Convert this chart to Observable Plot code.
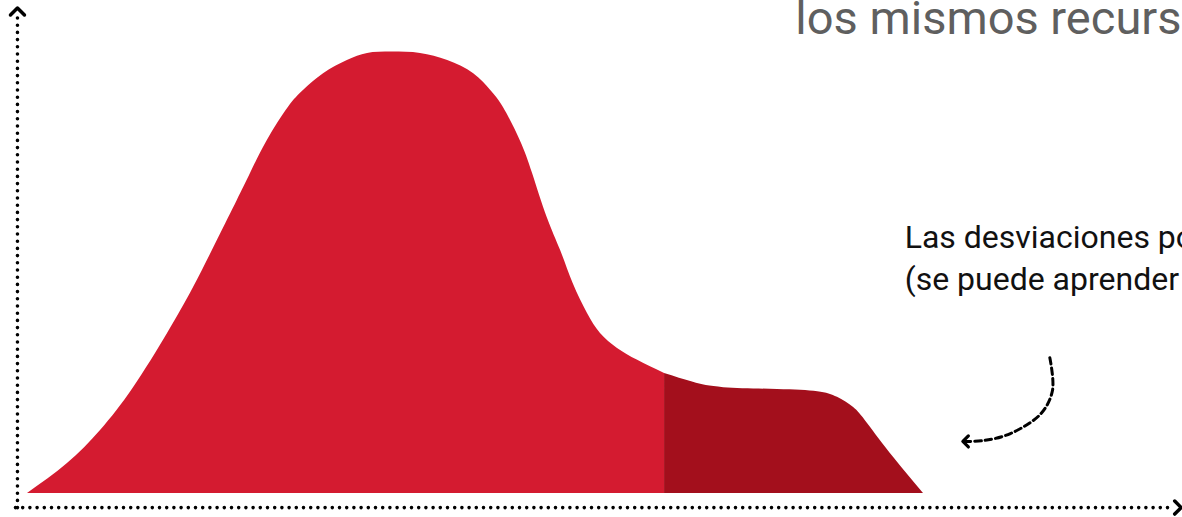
<!DOCTYPE html>
<html>
<head>
<meta charset="utf-8">
<script src="https://cdn.jsdelivr.net/npm/d3@7"></script>
<script src="https://cdn.jsdelivr.net/npm/@observablehq/plot@0.6"></script>
<style>
  html, body { margin: 0; padding: 0; background: #fff; overflow: hidden; }
  #chart svg { display: block; }
</style>
</head>
<body>
<div id="chart"></div>
<script>
// distribution outline (x: performance 0-100, y: relative density 0-100)
const curveX = [0, 4.46, 8.15, 11.83, 15.63, 18.53, 21.2, 23.4, 24.9, 26.75, 29.13, 30.8, 33.04, 35.7, 37.95, 40.7, 43.86, 46.9, 49.8, 51.7, 53.1, 55.0, 56.36, 58.0, 59.5, 60.9, 62.5, 63.95, 65.85, 68.1, 71.1, 74.3, 77.7, 83.7, 88.2, 90.4, 92.2, 93.75, 96.65, 100];
const curveY = [0, 6.8, 14.3, 24.0, 36.3, 46.7, 57.4, 66.4, 72.6, 80.0, 87.6, 91.4, 95.2, 98.2, 99.8, 100.1, 99.8, 98.2, 95.2, 91.4, 87.6, 80.0, 72.6, 62.6, 55.1, 47.6, 40.8, 36.3, 32.9, 30.2, 27.2, 25.2, 24.0, 23.6, 23.1, 21.8, 19.5, 15.9, 8.2, 0];
const tailStart = 71.1;

// axis extents (data units)
const axisXRange = [-1.34, 128.0];
const axisYRange = [-3.2, 108.4];
const axisXAt = -3.2;
const axisYAt = -1.12;
const axisHeads = [
  {x: -1.12, y: 109.3, rotate: 0, r: 7},
  {x: 128.4, y: -3.2, rotate: 90, r: 6.5}
];

// annotation arrow path
const pointerX = [114.1, 114.4, 113.1, 109.7, 106.7, 104.6];
const pointerY = [30.8, 23.4, 18.1, 13.6, 12.0, 11.8];
const pointerHead = [{x: 104.7, y: 11.8, rotate: -90, r: 5.5}];

// texts
const titleText = "los mismos recursos";
const titlePos = [85.7, 107.7];
const noteText = "Las desviaciones positivas\n(se puede aprender de ellas)";
const notePos = [97.9, 62.6];

const pts = curveX.map((x, i) => ({x, y: curveY[i]}));
const main = pts.filter(d => d.x <= tailStart);
const tail = pts.filter(d => d.x >= tailStart);
const pointer = pointerX.map((x, i) => ({x, y: pointerY[i]}));

// open chevron symbol (pointing up before rotation)
const chevron = {
  draw(ctx, size) {
    const r = Math.sqrt(size / Math.PI);
    ctx.moveTo(-r, r * 0.5);
    ctx.lineTo(0, -r * 0.5);
    ctx.lineTo(r, r * 0.5);
  }
};

const chart = Plot.plot({
  width: 1182,
  height: 517,
  x: {domain: [0, 100], range: [27, 923], axis: null},
  y: {domain: [0, 100], range: [493, 52], axis: null},
  r: {type: "identity"},
  style: {fontFamily: "Roboto, sans-serif", background: "#fff"},
  marks: [
    Plot.areaY(main, {x: "x", y: "y", fill: "#d41b30", curve: "natural"}),
    Plot.areaY(tail, {x: "x", y: "y", fill: "#a30f1c", curve: "natural"}),
    // y axis
    Plot.line([{x: axisYAt, y: axisYRange[0]}, {x: axisYAt, y: axisYRange[1]}], {
      x: "x", y: "y", stroke: "#000", strokeWidth: 3.6, strokeDasharray: "0 7.2",
      strokeLinecap: "round"
    }),
    // x axis
    Plot.line([{x: axisXRange[0], y: axisXAt}, {x: axisXRange[1], y: axisXAt}], {
      x: "x", y: "y", stroke: "#000", strokeWidth: 3.6, strokeDasharray: "0 7.2",
      strokeLinecap: "round"
    }),
    Plot.dot(axisHeads, {
      x: "x", y: "y", r: "r", rotate: "rotate", symbol: chevron, fill: "none",
      stroke: "#000", strokeWidth: 3.5, strokeLinecap: "round", strokeLinejoin: "round"
    }),
    // dashed pointer
    Plot.line(pointer, {
      x: "x", y: "y", stroke: "#000", strokeWidth: 3, strokeDasharray: "6.5 4",
      curve: "catmull-rom"
    }),
    Plot.dot(pointerHead, {
      x: "x", y: "y", r: "r", rotate: "rotate", symbol: chevron, fill: "none",
      stroke: "#000", strokeWidth: 3.2, strokeLinecap: "round", strokeLinejoin: "round"
    }),
    Plot.text([titleText], {
      x: titlePos[0], y: titlePos[1], text: d => d, textAnchor: "start",
      lineAnchor: "middle", fontSize: 47, fill: "#5f5f5f", fontWeight: 400
    }),
    Plot.text([noteText], {
      x: notePos[0], y: notePos[1], text: d => d, textAnchor: "start",
      lineAnchor: "top", fontSize: 32, lineHeight: 1.33, fill: "#111"
    })
  ]
});
document.getElementById("chart").append(chart);
</script>
</body>
</html>
